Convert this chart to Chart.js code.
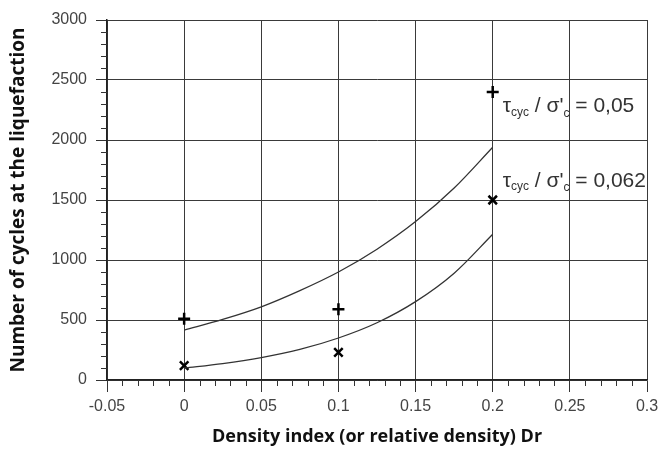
<!DOCTYPE html>
<html>
<head>
<meta charset="utf-8">
<script src="https://cdn.jsdelivr.net/npm/chart.js@4"></script>
<style>
  html, body { margin: 0; padding: 0; background: #ffffff; }
  #wrap { width: 659px; height: 450px; }
</style>
</head>
<body>
<div id="wrap"><canvas id="liqChart" width="659" height="450"></canvas></div>
<script>
const densityPts = [0, 0.1, 0.2];
const cyclesRatio005 = [510, 590, 2400];   // "+" markers
const cyclesRatio0062 = [120, 230, 1500];  // "x" markers

// Fitted curves as drawn in the figure
const curveDr = [0, 0.025, 0.05, 0.075, 0.1, 0.125, 0.15, 0.175, 0.2];
const curve005 = [415, 505, 610, 745, 900, 1090, 1320, 1600, 1940];
const curve0062 = [100, 137, 187, 255, 350, 477, 653, 890, 1215];

// Axis ticks
const xTicks = [-0.05, 0, 0.05, 0.1, 0.15, 0.2, 0.25, 0.3];
const xTickLabels = ['-0.05', '0', '0.05', '0.1', '0.15', '0.2', '0.25', '0.3'];
const yTicks = [0, 500, 1000, 1500, 2000, 2500, 3000];
const yTickLabels = ['0', '500', '1000', '1500', '2000', '2500', '3000'];

const toXY = (xs, ys) => xs.map((x, i) => ({ x: x, y: ys[i] }));

// minor ticks + annotation labels
const extrasPlugin = {
  id: 'extras',
  afterDraw(chart) {
    const ctx = chart.ctx;
    const xs = chart.scales.x;
    const ys = chart.scales.y;
    const area = chart.chartArea;
    ctx.save();
    ctx.strokeStyle = '#333333';
    ctx.lineWidth = 1;
    // x minor ticks every 0.01
    for (let i = 0; i <= 35; i++) {
      if (i % 5 === 0) continue;
      const px = Math.round(xs.getPixelForValue(-0.05 + i * 0.01)) + 0.5;
      ctx.beginPath();
      ctx.moveTo(px, area.bottom);
      ctx.lineTo(px, area.bottom + 6);
      ctx.stroke();
    }
    // y minor ticks every 100
    for (let i = 0; i <= 30; i++) {
      if (i % 5 === 0) continue;
      const py = Math.round(ys.getPixelForValue(i * 100)) + 0.5;
      ctx.beginPath();
      ctx.moveTo(area.left - 6, py);
      ctx.lineTo(area.left, py);
      ctx.stroke();
    }

    // ratio labels
    function ratioLabel(x, y, value) {
      let cx = x;
      ctx.fillStyle = '#333333';
      ctx.textBaseline = 'middle';
      ctx.textAlign = 'left';
      const big = '21px "Liberation Sans", Arial, sans-serif';
      const small = '12px "Liberation Sans", Arial, sans-serif';
      const parts = [
        ['\u03C4', big, 0],
        ['cyc', small, 6],
        [' / \u03C3\'', big, 0],
        ['c', small, 7],
        [' = ' + value, big, 0]
      ];
      parts.forEach(p => {
        ctx.font = p[1];
        ctx.fillText(p[0], cx, y + p[2]);
        cx += ctx.measureText(p[0]).width;
      });
    }
    const lx = xs.getPixelForValue(0.2) + 10;
    ratioLabel(lx, ys.getPixelForValue(2280), '0,05');
    ratioLabel(lx, ys.getPixelForValue(1660), '0,062');
    ctx.restore();
  }
};

const ctx = document.getElementById('liqChart').getContext('2d');
const chart = new Chart(ctx, {
  type: 'scatter',
  data: {
    datasets: [
      {
        label: 'curve 0,05',
        data: toXY(curveDr, curve005),
        showLine: true,
        borderColor: '#333333',
        borderWidth: 1.3,
        pointRadius: 0,
        cubicInterpolationMode: 'monotone'
      },
      {
        label: 'curve 0,062',
        data: toXY(curveDr, curve0062),
        showLine: true,
        borderColor: '#333333',
        borderWidth: 1.3,
        pointRadius: 0,
        cubicInterpolationMode: 'monotone'
      },
      {
        label: 'tau/sigma = 0,05',
        data: toXY(densityPts, cyclesRatio005),
        pointStyle: 'cross',
        pointRadius: 6,
        borderColor: '#000000',
        borderWidth: 2.5,
        backgroundColor: '#000000'
      },
      {
        label: 'tau/sigma = 0,062',
        data: toXY(densityPts, cyclesRatio0062),
        pointStyle: 'crossRot',
        pointRadius: 6,
        borderColor: '#000000',
        borderWidth: 2.5,
        backgroundColor: '#000000'
      }
    ]
  },
  options: {
    responsive: false,
    animation: false,
    layout: { padding: { top: 20, right: 12, left: 6, bottom: 0 } },
    plugins: {
      legend: { display: false },
      tooltip: { enabled: false }
    },
    scales: {
      x: {
        type: 'linear',
        min: -0.05,
        max: 0.3,
        afterBuildTicks: (scale) => { scale.ticks = xTicks.map(v => ({ value: v })); },
        afterFit: (scale) => {
          scale.height = 70;
          scale.paddingLeft = 0;
          scale.paddingRight = 0;
        },
        grid: { color: '#3a3a3a', lineWidth: 1, tickLength: 12, tickColor: '#333333' },
        border: { color: '#222222', width: 1.5 },
        ticks: {
          color: '#444444',
          font: { family: '"Liberation Sans", Arial, sans-serif', size: 16 },
          padding: 5,
          maxRotation: 0,
          callback: (v, i) => xTickLabels[i]
        },
        title: {
          display: true,
          text: 'Density index (or relative density) Dr',
          color: '#111111',
          font: { family: '"Open Sans", sans-serif', size: 18, weight: 'bold' },
          padding: { top: 2, bottom: 2 }
        }
      },
      y: {
        type: 'linear',
        min: 0,
        max: 3000,
        afterBuildTicks: (scale) => { scale.ticks = yTicks.map(v => ({ value: v })); },
        afterFit: (scale) => {
          scale.width = 101;
          scale.paddingTop = 0;
          scale.paddingBottom = 0;
        },
        grid: { color: '#3a3a3a', lineWidth: 1, tickLength: 11, tickColor: '#333333' },
        border: { color: '#222222', width: 1.5 },
        ticks: {
          color: '#444444',
          font: { family: '"Liberation Sans", Arial, sans-serif', size: 16 },
          padding: 9,
          callback: (v, i) => yTickLabels[i]
        },
        title: {
          display: true,
          text: 'Number of cycles at the liquefaction',
          color: '#111111',
          font: { family: '"Open Sans", sans-serif', size: 19, weight: 'bold' },
          padding: { top: 1, bottom: 2 }
        }
      }
    }
  },
  plugins: [extrasPlugin]
});
</script>
</body>
</html>
